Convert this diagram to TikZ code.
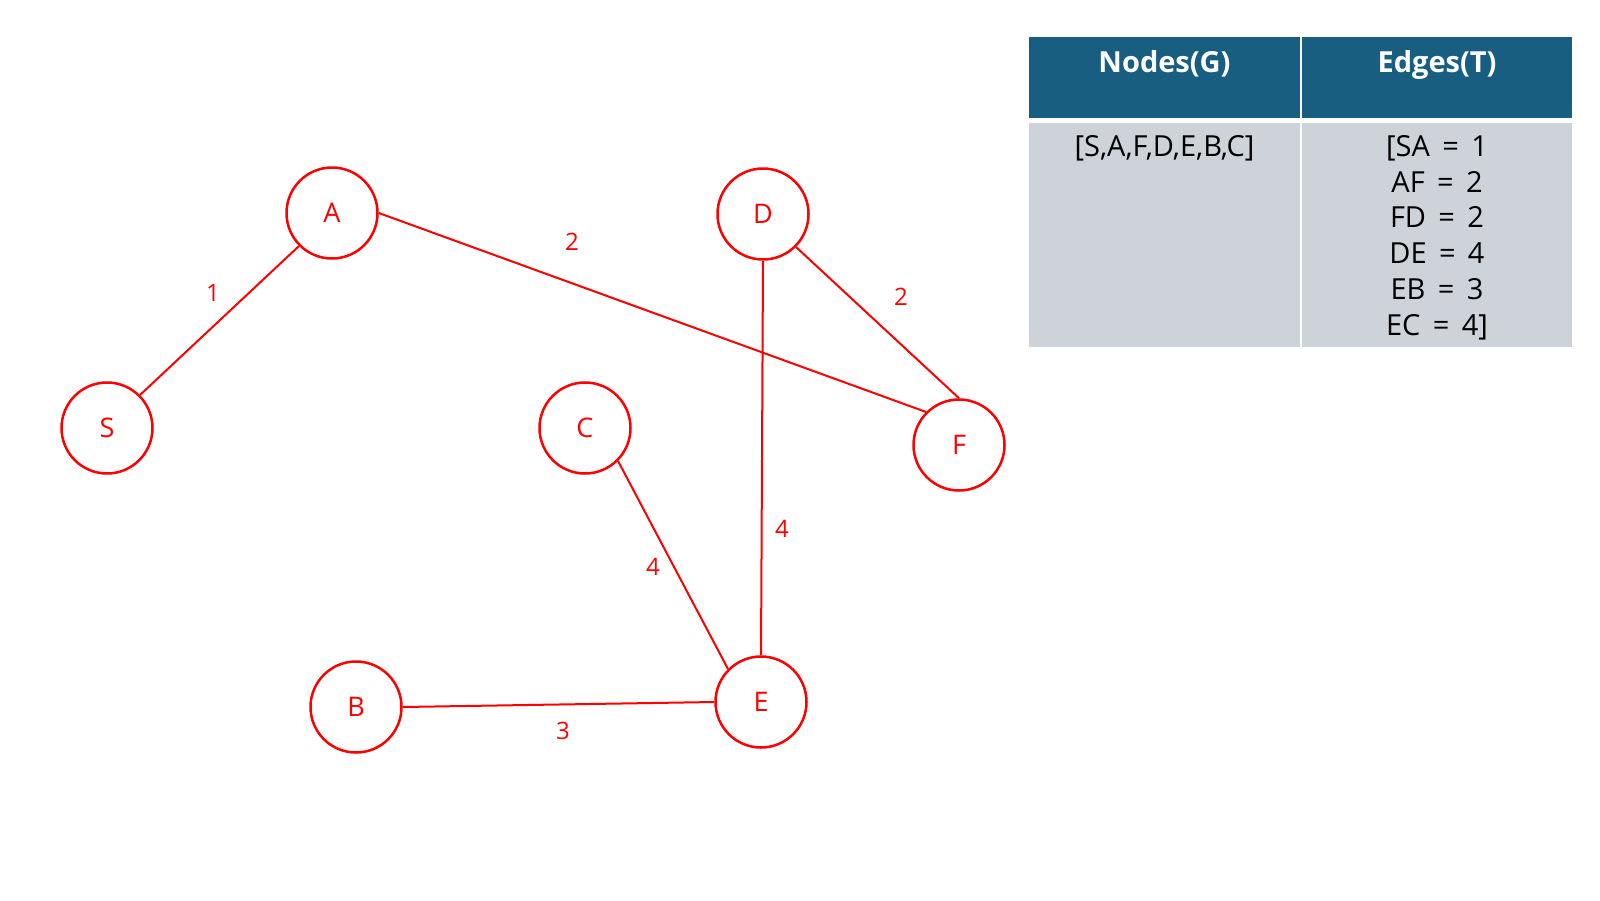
\documentclass[tikz,border=0pt]{standalone}
\usepackage{fontspec}
\setmainfont{Open Sans}
\definecolor{hdr}{RGB}{23,94,128}
\definecolor{cellgray}{RGB}{206,211,218}
\definecolor{gred}{RGB}{255,0,0}
\begin{document}
\begin{tikzpicture}[x=1pt,y=-1pt,
  vtx/.style={circle,draw=gred,line width=2.5pt,minimum size=91pt,inner sep=0pt,text=gred,font=\fontsize{27}{32}\selectfont},
  edg/.style={draw=gred,line width=2pt},
  wlbl/.style={text=gred,font=\fontsize{24}{28}\selectfont,inner sep=0pt},
  hdrtxt/.style={text=white,font=\fontsize{29}{34}\selectfont\bfseries,anchor=base,inner sep=0pt},
  celltxt/.style={text=black,font=\fontsize{29}{34}\selectfont,anchor=base,inner sep=0pt}]
\useasboundingbox (0,0) rectangle (1600,900);
\fill[white] (0,0) rectangle (1600,900);
% table
\fill[hdr] (1029,37) rectangle (1300,117.5);
\fill[hdr] (1302,37) rectangle (1572,117.5);
\fill[cellgray] (1029,122.5) rectangle (1300,347);
\fill[cellgray] (1302,122.5) rectangle (1572,347);
\node[hdrtxt] (h1) at (1164.5,72) {Nodes(G)};
\node[hdrtxt] (h2) at (1437,72) {Edges(T)};
\node[celltxt] (n1) at (1164.5,156.5) {[S,A,F,D,E,B,C]};
\node[celltxt] (e1) at (1437,156.5) {[SA\, = \,1};
\node[celltxt] (e2) at (1437,192.2) {AF\, = \,2};
\node[celltxt] (e3) at (1437,227.9) {FD\, = \,2};
\node[celltxt] (e4) at (1437,263.6) {DE\, = \,4};
\node[celltxt] (e5) at (1437,299.3) {EB\, = \,3};
\node[celltxt] (e6) at (1437,335) {EC\, = \,4]};
% vertices
\node[vtx] (A) at (332,213) {A};
\node[vtx] (D) at (763,214) {D};
\node[vtx] (S) at (107,428) {S};
\node[vtx] (C) at (585,428) {C};
\node[vtx] (F) at (959,445) {F};
\node[vtx] (B) at (356,707) {B};
\node[vtx] (E) at (761,702) {E};
% edges
\draw[edg] (S.north east) -- (A.south west);
\draw[edg] (A.east) -- (F.north west);
\draw[edg] (D.south east) -- (F.north);
\draw[edg] (D.south) -- (E.north);
\draw[edg] (C.south east) -- (E.north west);
\draw[edg] (B.east) -- (E.west);
% weights
\node[wlbl] (w1) at (213,293) {1};
\node[wlbl] (w2) at (572,242) {2};
\node[wlbl] (w3) at (901,297) {2};
\node[wlbl] (w4) at (782,529) {4};
\node[wlbl] (w5) at (653,567) {4};
\node[wlbl] (w6) at (563,731) {3};
\end{tikzpicture}
\end{document}
